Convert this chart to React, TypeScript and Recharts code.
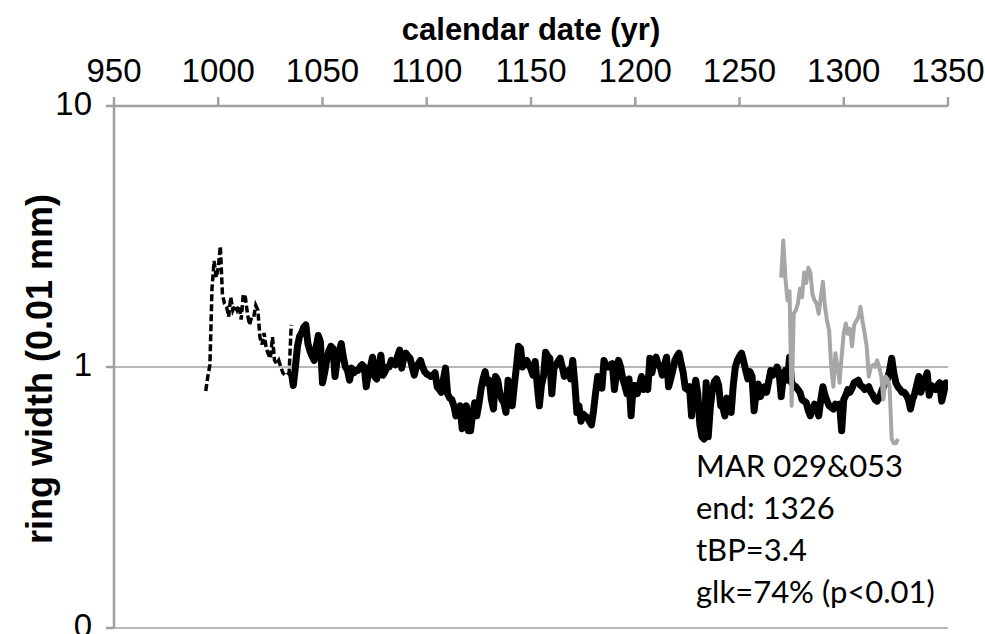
import React from "react"
import {
  LineChart,
  Line,
  XAxis,
  YAxis,
  CartesianGrid,
} from "recharts"

// ring-width series, one value per year (0.01 mm), log axis
const DASHED_START = 994
const dashedValues = [
  0.81, 0.92, 1.02, 2.0, 2.55, 2.2, 2.4, 2.9, 1.9, 1.75,
  1.7, 1.56, 1.85, 1.65, 1.72, 1.65, 1.72, 1.52, 1.9, 1.85,
  1.6, 1.45, 1.55, 1.55, 1.72, 1.65, 1.3, 1.22, 1.35, 1.18,
  1.12, 1.08, 1.3, 1.06, 1.03, 1.06, 1.0, 0.95, 0.93, 0.93,
  0.95, 1.45,
]

const MEAN_START = 1035
const meanValues = [
  0.96, 0.85, 1.0, 1.2, 1.31, 1.35, 1.42, 1.45, 1.23, 1.15,
  1.1, 1.06, 1.2, 1.32, 1.25, 0.87, 0.95, 1.06, 1.15, 1.2,
  1.18, 0.92, 1.06, 1.15, 1.23, 1.09, 1.0, 0.97, 0.89, 0.99,
  0.95, 0.97, 0.97, 1.0, 1.02, 1.0, 0.84, 0.95, 1.0, 1.09,
  0.92, 0.9, 1.0, 1.11, 0.93, 0.96, 1.0, 1.0, 1.06, 1.04,
  1.02, 1.1, 1.16, 0.99, 1.08, 1.13, 1.1, 1.08, 1.0, 0.93,
  1.0, 1.03, 1.06, 1.0, 0.96, 0.94, 0.93, 0.92, 0.93, 0.95,
  0.84, 0.82, 0.8, 0.9, 0.99, 0.79, 0.76, 0.75, 0.71, 0.65,
  0.68, 0.71, 0.58, 0.65, 0.71, 0.57, 0.57, 0.66, 0.73, 0.65,
  0.72, 0.82, 0.9, 0.96, 0.87, 0.89, 0.75, 0.69, 0.92, 0.89,
  0.8, 0.75, 0.73, 0.67, 0.89, 0.8, 0.71, 0.85, 1.0, 1.2,
  1.18, 1.0, 1.03, 1.06, 1.02, 0.98, 0.93, 1.05, 0.85, 0.71,
  0.85, 0.92, 1.14, 1.1, 1.08, 0.79, 0.99, 1.02, 1.05, 1.08,
  1.0, 0.92, 0.95, 0.97, 0.9, 1.06, 0.87, 0.67, 0.71, 0.62,
  0.66, 0.65, 0.64, 0.62, 0.6, 0.68, 0.8, 0.92, 0.9, 0.83,
  1.06, 1.0, 1.0, 1.02, 1.03, 0.82, 0.95, 1.06, 1.0, 0.9,
  0.85, 0.79, 0.9, 0.65, 0.85, 0.85, 0.79, 0.85, 0.92, 0.82,
  0.85, 0.82, 1.08, 0.95, 1.05, 1.09, 1.02, 1.0, 0.93, 1.02,
  1.09, 0.84, 0.9, 0.97, 1.06, 1.1, 1.13, 1.03, 0.95, 0.83,
  0.82, 0.84, 0.65, 0.8, 0.89, 0.79, 0.6, 0.54, 0.53, 0.87,
  0.54, 0.7, 0.82, 0.88, 0.9, 0.85, 0.71, 0.7, 0.65, 0.76,
  0.72, 0.67, 0.85, 1.0, 1.06, 1.1, 1.13, 1.05, 0.97, 0.9,
  0.96, 0.92, 0.68, 0.8, 0.86, 0.77, 0.8, 0.84, 0.8, 0.88,
  0.97, 0.93, 0.95, 1.0, 0.95, 0.77, 0.92, 0.97, 0.89, 1.09,
  0.87, 0.85, 0.84, 0.82, 0.8, 0.75, 0.74, 0.73, 0.68, 0.65,
  0.69, 0.72, 0.7, 0.65, 0.75, 0.84, 0.78, 0.74, 0.71, 0.7,
  0.69, 0.72, 0.7, 0.72, 0.57, 0.75, 0.78, 0.82, 0.8, 0.83,
  0.87, 0.88, 0.89, 0.85, 0.84, 0.82, 0.83, 0.84, 0.8, 0.78,
  0.75, 0.74, 0.76, 0.8, 0.84, 0.87, 0.9, 0.97, 1.08, 0.95,
  0.87, 0.84, 0.82, 0.8, 0.8, 0.78, 0.75, 0.69, 0.75, 0.79,
  0.85, 0.92, 0.8, 0.85, 0.9, 0.95, 0.78, 0.85, 0.83, 0.82,
  0.85, 0.87, 0.74, 0.8, 0.87, 0.86,
]

const SAMPLE_START = 1270
const sampleValues = [
  2.2, 3.05, 2.2, 1.8, 1.95, 0.71, 1.6, 1.65, 1.75, 2.0,
  1.85, 2.3, 2.1, 2.4, 2.3, 1.9, 1.8, 1.75, 1.6, 1.85,
  2.12, 1.7, 1.5, 1.38, 1.0, 0.84, 1.13, 1.0, 0.87, 1.1,
  1.35, 1.47, 1.34, 1.4, 1.2, 1.45, 1.5, 1.55, 1.7, 1.5,
  1.35, 1.2, 0.92, 1.0, 1.02, 1.0, 1.06, 1.0, 0.92, 0.75,
  0.92, 0.9, 0.84, 0.53, 0.51, 0.51, 0.53,
]

const yearTicks = [950, 1000, 1050, 1100, 1150, 1200, 1250, 1300, 1350]
const widthTicks = [0.1, 1, 10]

const toRows = (start: number, values: number[]) =>
  values.map((v, i) => ({ year: start + i, rw: v }))

const dashedData = toRows(DASHED_START, dashedValues)
const meanData = toRows(MEAN_START, meanValues)
const sampleData = toRows(SAMPLE_START, sampleValues)

const AXIS_GRAY = "#a0a0a0"
const TICK_FONT = "'Liberation Sans Narrow', 'Liberation Sans', Arial, sans-serif"
const tickStyle = { fill: "#000", fontSize: 33, fontFamily: TICK_FONT }

export default function App() {
  return (
    <div style={{ position: "absolute", left: 0, top: 0, width: 985, height: 634, background: "#fff", overflow: "hidden" }}>
      <LineChart
        width={985}
        height={634}
        margin={{ top: 36, right: 37, left: 54, bottom: 6 }}
      >
        <CartesianGrid
          vertical={false}
          stroke={AXIS_GRAY}
          strokeWidth={1.5}
          horizontalValues={widthTicks}
        />
        <XAxis
          dataKey="year"
          type="number"
          orientation="top"
          domain={[950, 1350]}
          ticks={yearTicks}
          allowDataOverflow
          height={70}
          tickSize={9}
          tickMargin={15}
          tick={tickStyle}
          stroke={AXIS_GRAY}
          strokeWidth={2.5}
          interval={0}
        />
        <YAxis
          dataKey="rw"
          scale="log"
          domain={[0.1, 10]}
          ticks={widthTicks}
          allowDataOverflow
          width={60}
          tickSize={8}
          tickMargin={14}
          tick={{ ...tickStyle, dy: -3 }}
          tickFormatter={(v: number) => (v < 1 ? "0" : String(v))}
          stroke={AXIS_GRAY}
          strokeWidth={2.5}
          interval={0}
        />
        <Line
          data={dashedData}
          dataKey="rw"
          type="linear"
          stroke="#000"
          strokeWidth={3.5}
          strokeDasharray="7 3"
          dot={false}
          isAnimationActive={false}
        />
        <Line
          data={meanData}
          dataKey="rw"
          type="linear"
          stroke="#000"
          strokeWidth={7}
          strokeLinejoin="round"
          dot={false}
          isAnimationActive={false}
        />
        <Line
          data={sampleData}
          dataKey="rw"
          type="linear"
          stroke="#a6a6a6"
          strokeWidth={4}
          strokeLinejoin="round"
          dot={false}
          isAnimationActive={false}
        />
      </LineChart>

      <div
        style={{
          position: "absolute",
          left: 114,
          width: 834,
          top: 11,
          textAlign: "center",
          fontFamily: "'Liberation Sans', Arial, sans-serif",
          fontWeight: "bold",
          fontSize: 31,
          lineHeight: "38px",
        }}
      >
        calendar date (yr)
      </div>

      <div
        style={{
          position: "absolute",
          left: 40,
          top: 369,
          transform: "translate(-50%, -50%) rotate(-90deg)",
          whiteSpace: "nowrap",
          fontFamily: "'Liberation Sans', Arial, sans-serif",
          fontWeight: "bold",
          fontSize: 36,
        }}
      >
        ring width (0.01 mm)
      </div>

      <div
        style={{
          position: "absolute",
          left: 696,
          top: 444,
          fontFamily: "Lato, 'Open Sans', sans-serif",
          fontSize: 31,
          lineHeight: "42px",
          color: "#000",
        }}
      >
        <div>MAR 029&amp;053</div>
        <div>end: 1326</div>
        <div>tBP=3.4</div>
        <div>glk=74% (p&lt;0.01)</div>
      </div>
    </div>
  )
}
